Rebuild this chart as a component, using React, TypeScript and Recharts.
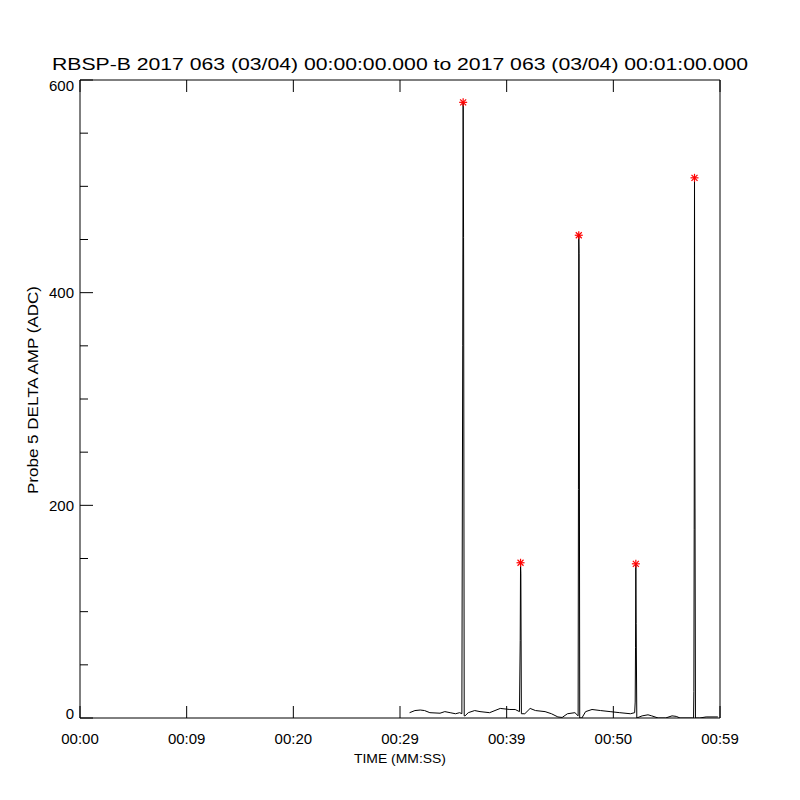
import React from 'react';
import { ComposedChart, Line, Scatter, XAxis, YAxis } from 'recharts';

// Time (seconds after 00:00:00) and Probe 5 delta amplitude (ADC)
const times = [
  30.9, 31.4, 31.9, 32.3, 32.8, 33.75, 34.2, 34.7, 35.2, 35.6, 35.8,
  35.88, 35.92, 35.96, 36.02, 36.1, 36.4, 37.0, 37.5, 38.4, 39.4, 40.3, 40.8, 41.2,
  41.27, 41.3, 41.33, 41.38, 41.7, 42.2, 42.7, 43.6, 44.2, 44.8, 45.2, 45.7, 46.4, 46.7,
  46.73, 46.76, 46.79, 46.85, 47.05, 47.4, 48.0, 48.8, 49.7, 50.6, 51.6, 52.0,
  52.05, 52.08, 52.11, 52.14, 52.2, 52.7, 53.25, 53.6, 54.2, 54.9, 55.5, 55.9, 56.25, 57.4, 57.52,
  57.55, 57.58, 57.61, 57.64, 57.7, 58.1, 58.7, 59.8,
];
const amps = [
  5, 7, 7.5, 7, 5, 4.5, 6, 5, 4, 5, 4,
  350, 579, 452, 2, 2, 5, 7, 6, 5, 9, 8, 8, 6,
  73, 146, 136, 4, 4, 9, 7, 6, 4, 1, 0.5, 4, 5, 2,
  215, 454, 437, 0, 0, 6, 8, 7, 6, 5, 4, 5,
  15, 66, 145, 89, 0, 2, 3, 2, 0, 0, 2, 1.5, 0, 0, 0,
  25, 177, 508, 283, 0, 0, 1, 1,
];

const peakTimes = [35.92, 41.3, 46.76, 52.11, 57.61];
const peakAmps = [579, 146, 454, 145, 508];

const xTicks = [0, 10, 20, 30, 40, 50, 60];
const xTickLabels = ['00:00', '00:09', '00:20', '00:29', '00:39', '00:50', '00:59'];
const yTicks = [0, 50, 100, 150, 200, 250, 300, 350, 400, 450, 500, 550, 600];
const yMajorTicks = [0, 200, 400, 600];

const series = times.map((t, i) => ({ t, v: amps[i] }));
const peaks = peakTimes.map((t, i) => ({ t, v: peakAmps[i] }));

const FONT = '"Liberation Sans", Arial, sans-serif';
const X_MARGIN = 15;
const Y_MARGIN = 6;

const BottomTick = (props: any) => {
  const { x, y, payload } = props;
  const axisY = y - X_MARGIN;
  const idx = xTicks.indexOf(payload.value);
  return (
    <g>
      <line x1={x} y1={axisY} x2={x} y2={axisY - 12} stroke="#000" strokeWidth={1} />
      <text x={x} y={y} dy="0.72em" textAnchor="middle" fontFamily={FONT} fontSize={15} fill="#000">
        {idx >= 0 ? xTickLabels[idx] : ''}
      </text>
    </g>
  );
};

const TopTick = (props: any) => {
  const { x, y } = props;
  return <line x1={x} y1={y} x2={x} y2={y + 12} stroke="#000" strokeWidth={1} />;
};

const LeftTick = (props: any) => {
  const { x, y, payload } = props;
  const axisX = x + Y_MARGIN;
  const major = yMajorTicks.includes(payload.value);
  const shift = payload.value === 600 ? 6 : payload.value === 0 ? -4 : 0;
  return (
    <g>
      <line x1={axisX} y1={y} x2={axisX + (major ? 13 : 8)} y2={y} stroke="#000" strokeWidth={1} />
      {major && (
        <text x={x} y={y + shift} dy="0.36em" textAnchor="end" fontFamily={FONT} fontSize={15} fill="#000">
          {payload.value}
        </text>
      )}
    </g>
  );
};

const RightTick = (props: any) => {
  const { x, y, payload } = props;
  const major = yMajorTicks.includes(payload.value);
  return <line x1={x} y1={y} x2={x - (major ? 13 : 8)} y2={y} stroke="#000" strokeWidth={1} />;
};

const Star = (props: any) => {
  const { cx, cy } = props;
  const r = 4;
  const d = 3;
  return (
    <g stroke="#ff0000" strokeWidth={1.2}>
      <line x1={cx - r} y1={cy} x2={cx + r} y2={cy} />
      <line x1={cx} y1={cy - r} x2={cx} y2={cy + r} />
      <line x1={cx - d} y1={cy - d} x2={cx + d} y2={cy + d} />
      <line x1={cx - d} y1={cy + d} x2={cx + d} y2={cy - d} />
    </g>
  );
};

export default function App() {
  return (
    <div style={{ position: 'absolute', left: 0, top: 0, width: 800, height: 800, background: '#fff' }}>
      <ComposedChart
        width={800}
        height={800}
        data={series}
        margin={{ top: 60, right: 60, bottom: 40, left: 20 }}
      >
        <XAxis
          xAxisId="bottom"
          dataKey="t"
          type="number"
          domain={[0, 60]}
          ticks={xTicks}
          orientation="bottom"
          height={42}
          tickSize={0}
          tickMargin={X_MARGIN}
          tickLine={false}
          axisLine={{ stroke: '#000', strokeWidth: 1 }}
          tick={<BottomTick />}
          interval={0}
          allowDataOverflow
        />
        <XAxis
          xAxisId="top"
          dataKey="t"
          type="number"
          domain={[0, 60]}
          ticks={xTicks}
          orientation="top"
          height={20}
          tickSize={0}
          tickMargin={0}
          tickLine={false}
          axisLine={{ stroke: '#000', strokeWidth: 1 }}
          tick={<TopTick />}
          interval={0}
        />
        <YAxis
          yAxisId="left"
          type="number"
          domain={[0, 600]}
          ticks={yTicks}
          orientation="left"
          width={60}
          tickSize={0}
          tickMargin={Y_MARGIN}
          tickLine={false}
          axisLine={{ stroke: '#000', strokeWidth: 1 }}
          tick={<LeftTick />}
          interval={0}
          allowDataOverflow
        />
        <YAxis
          yAxisId="right"
          type="number"
          domain={[0, 600]}
          ticks={yTicks}
          orientation="right"
          width={20}
          tickSize={0}
          tickMargin={0}
          tickLine={false}
          axisLine={{ stroke: '#000', strokeWidth: 1 }}
          tick={<RightTick />}
          interval={0}
        />
        <Line
          xAxisId="bottom"
          yAxisId="left"
          type="linear"
          dataKey="v"
          stroke="#000"
          strokeWidth={1}
          dot={false}
          activeDot={false}
          isAnimationActive={false}
        />
        <Scatter
          xAxisId="bottom"
          yAxisId="left"
          data={peaks}
          dataKey="v"
          shape={<Star />}
          isAnimationActive={false}
        />
      </ComposedChart>
      <svg
        width={800}
        height={800}
        style={{ position: 'absolute', left: 0, top: 0, pointerEvents: 'none' }}
      >
        <text x={400} y={70} textAnchor="middle" fontFamily={FONT} fontSize={17} fill="#000"
          textLength={696} lengthAdjust="spacingAndGlyphs">
          RBSP-B 2017 063 (03/04) 00:00:00.000 to 2017 063 (03/04) 00:01:00.000
        </text>
        <text x={400} y={763} textAnchor="middle" fontFamily={FONT} fontSize={13} fill="#000"
          textLength={92} lengthAdjust="spacingAndGlyphs">
          TIME (MM:SS)
        </text>
        <text x={0} y={0} transform="translate(38,390) rotate(-90)" textAnchor="middle"
          fontFamily={FONT} fontSize={14} fill="#000" textLength={208} lengthAdjust="spacingAndGlyphs">
          Probe 5 DELTA AMP (ADC)
        </text>
      </svg>
    </div>
  );
}
